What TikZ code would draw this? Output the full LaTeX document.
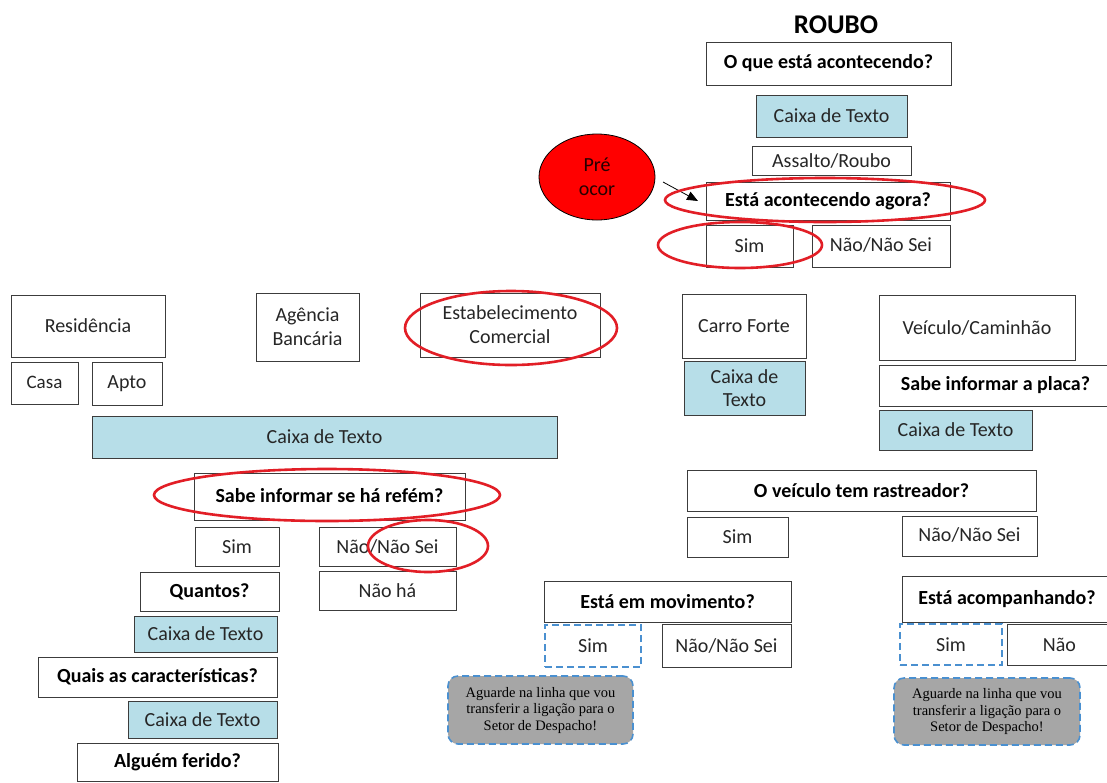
\documentclass[tikz,border=0pt]{standalone}
\usepackage{fontspec}
\setmainfont{Carlito}
\newfontfamily\notefont{Liberation Serif}
\usetikzlibrary{arrows.meta,shapes.geometric}

\definecolor{boxline}{RGB}{60,60,60}
\definecolor{aqua}{RGB}{183,222,232}
\definecolor{ringred}{RGB}{226,30,38}
\definecolor{dashblue}{RGB}{74,144,208}
\definecolor{notegrey}{RGB}{166,166,166}
\definecolor{inktext}{RGB}{38,38,38}

\tikzset{
  % box placed by its corners: {x1}{y1}{x2}{y2}
  span/.style n args={4}{minimum width={#3-#1}, minimum height={#4-#2},
    at={({(#1+#3)/2},{(#2+#4)/2})}},
  base/.style={inner sep=0pt, outer sep=0pt, align=center, text=inktext,
    font=\fontsize{20}{24}\selectfont},
  plain/.style={base, draw=boxline, line width=0.9pt},
  ask/.style={plain, text=black, font=\bfseries\fontsize{20}{24}\selectfont},
  fillbox/.style={plain, fill=aqua},
  maybe/.style={base, draw=dashblue, line width=1.6pt, dash pattern=on 7pt off 4pt},
  note/.style={base, draw=dashblue, fill=notegrey, line width=1.6pt,
    dash pattern=on 7pt off 4pt, rounded corners=10pt, text=black,
    font=\notefont\fontsize{14.5}{16.5}\selectfont},
  ring/.style={draw=ringred, line width=2.6pt},
}

\begin{document}
\begin{tikzpicture}[x=1pt, y=-1pt]
\fill[white] (0,0) rectangle (1107,782);
\useasboundingbox (0,0) rectangle (1107,782);

% ---- top: what is happening ----
\node[base, text=black, font=\bfseries\fontsize{27}{30}\selectfont] (title) at (836,25) {ROUBO};
\node[ask, span={706}{42}{951}{85}] (q1) {O que está acontecendo?};
\node[fillbox, span={756}{95}{907}{137}] (t1) {Caixa de Texto};
\node[plain, span={752}{146}{911}{175}] (assalto) {Assalto/Roubo};
\node[ask, span={706}{182}{950}{220}] (q2) {Está acontecendo agora?};
\node[plain, span={706}{225}{793}{267}] (q2sim) {Sim};
\node[plain, span={812}{225}{950}{267}] (q2nao) {\raisebox{2pt}{Não/Não Sei}};

\node[ellipse, draw=black, line width=0.8pt, fill=red, minimum width=116pt, minimum height=86pt,
  inner sep=0pt, align=center, text=black!85!red, font=\fontsize{20}{24}\selectfont] (pre) at (597,177) {Pré\\ocor};
\coordinate (pretail) at (663,182);
\coordinate (pretip) at (698,201);
\draw[line width=0.8pt, -{Triangle[length=11pt,width=9pt]}] (pretail) -- (pretip);

% ---- places ----
\node[plain, span={11}{295}{165}{357}] (resid) {Residência};
\node[plain, span={11}{362}{78}{404}, font=\fontsize{19}{23}\selectfont] (casa) {\raisebox{2pt}{Casa}};
\node[plain, span={92}{362}{162}{405}] (apto) {Apto};
\node[plain, span={256}{293}{359}{361}] (agencia) {Agência\\Bancária};
\node[plain, span={420}{293}{600}{357}] (estab) {Estabelecimento\\Comercial};
\node[fillbox, span={92}{416}{557}{458}] (t2) {Caixa de Texto};

% ---- hostage branch ----
\node[ask, span={194}{473}{465}{520}] (refem) {\raisebox{2pt}{Sabe informar se há refém?}};
\node[plain, span={195}{527}{279}{566}] (refsim) {Sim};
\node[plain, span={319}{527}{456}{566}] (refnao) {Não/Não Sei};
\node[plain, span={319}{571}{456}{610}] (naoha) {Não há};
\node[ask, span={140}{572}{279}{611}] (quantos) {Quantos?};
\node[fillbox, span={134}{616}{277}{652}] (t3) {Caixa de Texto};
\node[ask, span={38}{657}{277}{697}] (quais) {Quais as características?};
\node[fillbox, span={128}{701}{277}{738}] (t4) {Caixa de Texto};
\node[ask, span={77}{743}{278}{781}] (ferido) {Alguém ferido?};

% ---- armoured car / vehicle ----
\node[plain, span={682}{294}{806}{358}] (carro) {Carro Forte};
\node[fillbox, span={684}{361}{805}{415}, font=\fontsize{20}{23}\selectfont] (t5) {Caixa de\\Texto};
\node[plain, span={879}{295}{1075}{360}] (veiculo) {Veículo/Caminhão};
\node[ask, span={879}{365}{1112}{406}] (placa) {Sabe informar a placa?};
\node[fillbox, span={879}{410}{1032}{450}] (t6) {Caixa de Texto};

\node[ask, span={687}{470}{1036}{511}] (rastreador) {O veículo tem rastreador?};
\node[plain, span={687}{517}{788}{557}] (rassim) {Sim};
\node[plain, span={902}{516}{1037}{556}] (rasnao) {\raisebox{2pt}{Não/Não Sei}};

\node[ask, span={544}{581}{791}{622}] (movimento) {Está em movimento?};
\node[maybe, span={545}{625}{641}{667}] (movsim) {Sim};
\node[plain, span={662}{624}{791}{667}] (movnao) {Não/Não Sei};
\node[note, span={448}{676}{633}{744}] (aviso1) {Aguarde na linha que vou\\transferir a ligação para o\\Setor de Despacho!};

\node[ask, span={902}{576}{1112}{622}] (acomp) {\raisebox{3pt}{Está acompanhando?}};
\node[maybe, span={900}{624}{1002}{665}] (acsim) {Sim};
\node[plain, span={1007}{624}{1112}{665}] (acnao) {Não};
\node[note, span={894}{678}{1080}{745}] (aviso2) {Aguarde na linha que vou\\transferir a ligação para o\\Setor de Despacho!};

% ---- red highlight rings ----
\draw[ring] (825,200) ellipse [x radius=160pt, y radius=22pt];
\draw[ring] (740,245) ellipse [x radius=82pt, y radius=23pt];
\draw[ring] (511,328) ellipse [x radius=106pt, y radius=37pt];
\draw[ring] (327,495) ellipse [x radius=173pt, y radius=26pt];
\draw[ring] (428,546) ellipse [x radius=60pt, y radius=26pt];
\end{tikzpicture}
\end{document}
